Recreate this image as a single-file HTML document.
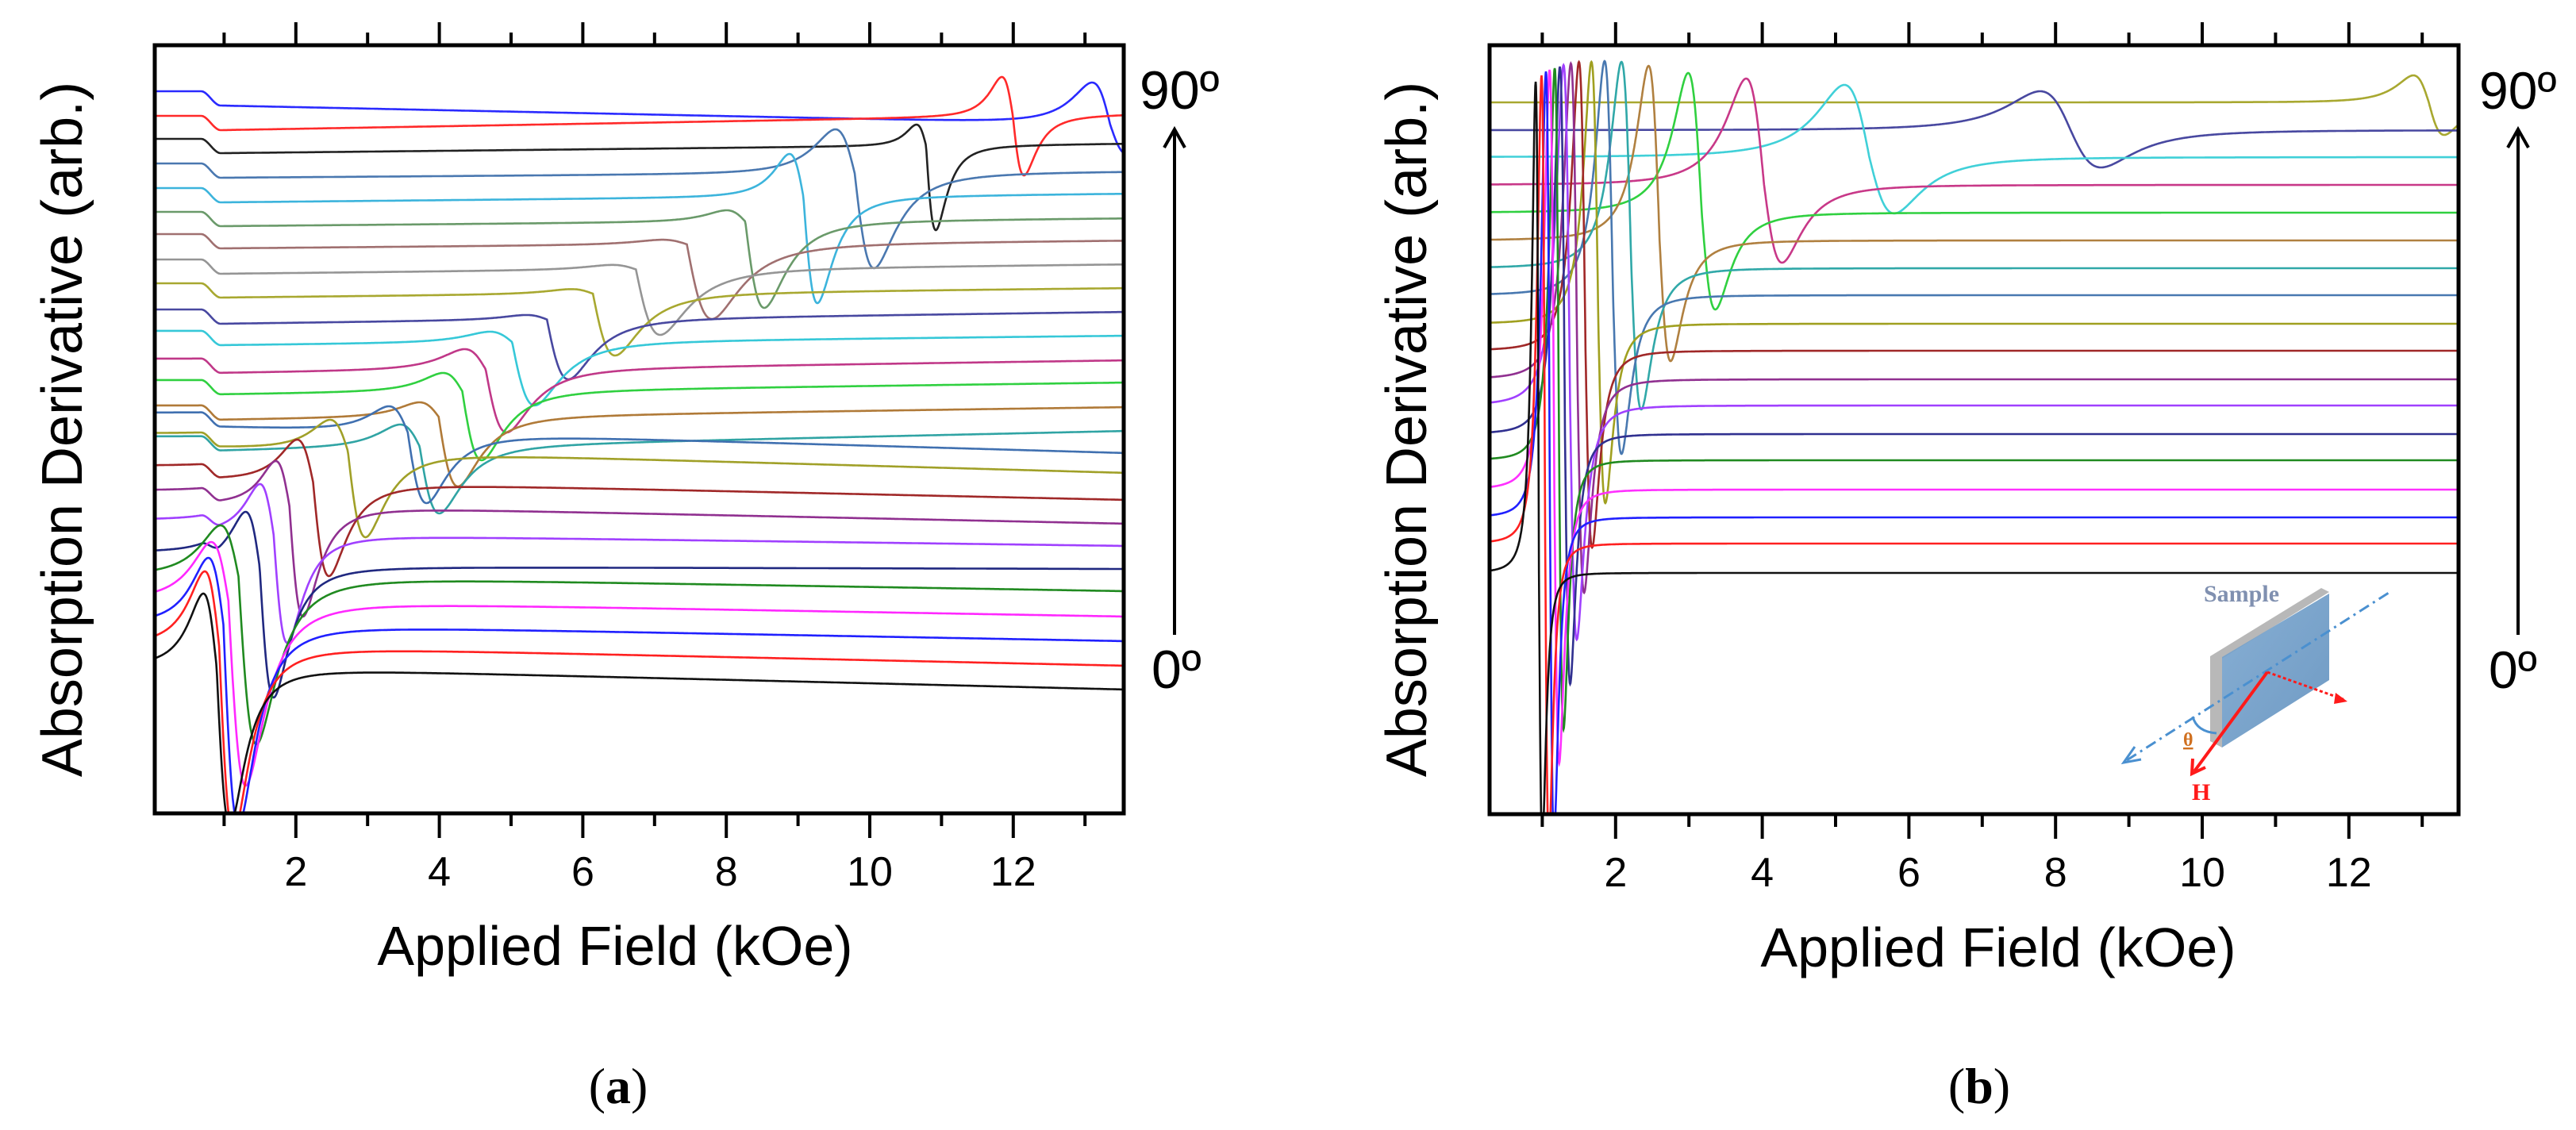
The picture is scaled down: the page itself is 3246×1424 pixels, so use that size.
<!DOCTYPE html>
<html><head><meta charset="utf-8"><style>
html,body{margin:0;padding:0;background:#fff;}
svg{display:block;}
text{font-family:"Liberation Sans",Arial,sans-serif;fill:#000;}
.ser{font-family:"Liberation Serif","Times New Roman",serif;}
</style></head><body>
<svg id="fig" width="3246" height="1424" viewBox="0 0 3246 1424" xmlns="http://www.w3.org/2000/svg">
<defs>
<clipPath id="clipA"><rect x="195" y="57" width="1221" height="968"/></clipPath>
<clipPath id="clipB"><rect x="1877" y="57" width="1221" height="969"/></clipPath>
<linearGradient id="plateGrad" x1="0" y1="0" x2="1" y2="1"><stop offset="0" stop-color="#7aa6cf"/><stop offset="1" stop-color="#5f8fbd"/></linearGradient>
</defs>
<g id="panelA">
<g id="tracesA" clip-path="url(#clipA)"></g>
<rect x="195" y="57" width="1221" height="968" fill="none" stroke="#000" stroke-width="5"/>
<g id="ticksA"></g>
<text transform="translate(103,541) rotate(-90)" text-anchor="middle" font-size="72">Absorption Derivative (arb.)</text>
<text x="775" y="1216" text-anchor="middle" font-size="70">Applied Field (kOe)</text>
<text x="1436" y="137" font-size="68">90º</text>
<line x1="1480" y1="800" x2="1480" y2="165" stroke="#000" stroke-width="4"/>
<polyline points="1467,186 1480,163 1493,186" fill="none" stroke="#000" stroke-width="4"/>
<text x="1451" y="867" font-size="68">0º</text>
<text class="ser" x="779" y="1390" text-anchor="middle" font-size="64">(<tspan font-weight="bold">a</tspan>)</text>
</g>
<g id="panelB">
<g id="tracesB" clip-path="url(#clipB)"></g>
<rect x="1877" y="57" width="1221" height="969" fill="none" stroke="#000" stroke-width="5"/>
<g id="ticksB"></g>
<text transform="translate(1797,541) rotate(-90)" text-anchor="middle" font-size="72">Absorption Derivative (arb.)</text>
<text x="2518" y="1218" text-anchor="middle" font-size="70">Applied Field (kOe)</text>
<text x="3124" y="137" font-size="66">90º</text>
<line x1="3173" y1="800" x2="3173" y2="165" stroke="#000" stroke-width="4"/>
<polyline points="3160,186 3173,163 3186,186" fill="none" stroke="#000" stroke-width="4"/>
<text x="3136" y="867" font-size="66">0º</text>
<text class="ser" x="2494" y="1390" text-anchor="middle" font-size="64">(<tspan font-weight="bold">b</tspan>)</text>
<g>
<polygon points="2785,827 2925,741 2935,746 2800,830 2800,942 2785,934" fill="#b8b8b8"/>
<polygon points="2800,828 2935,748 2935,857 2800,942" fill="url(#plateGrad)" opacity="0.9"/>
<text class="ser" x="2777" y="758" font-size="30" font-weight="bold" style="fill:#8090b0">Sample</text>
<line x1="2680" y1="958" x2="3010" y2="747" stroke="#4a90d0" stroke-width="3" stroke-dasharray="14,6,3,6"/>
<polyline points="2690,941 2676,961 2698,957" fill="none" stroke="#4a90d0" stroke-width="3"/>
<path d="M2763,903 Q2768,922 2793,924" fill="none" stroke="#4a90d0" stroke-width="3"/>
<line x1="2857" y1="847" x2="2765" y2="972" stroke="#ff1a1a" stroke-width="4"/>
<polyline points="2763,956 2762,975 2779,967" fill="none" stroke="#ff1a1a" stroke-width="4"/>
<line x1="2857" y1="847" x2="2955" y2="882" stroke="#ff1a1a" stroke-width="3" stroke-dasharray="4,3"/>
<polygon points="2958,884 2943,873 2941,887" fill="#ff1a1a"/>
<text class="ser" x="2751" y="940" font-size="24" font-weight="bold" style="fill:#d07020;text-decoration:underline">θ</text>
<text class="ser" x="2762" y="1008" font-size="30" font-weight="bold" style="fill:#ff1a1a">H</text>
</g>
</g>
</svg>
<script>
// ---------- Panel (a) data: traces ordered from top (90°) to bottom (0°) ----------
const aAngleIndex = [0,1,2,3,4,5,6,7,8,9,10,11,12,13,14,15,16,17,18,19,20,21,22,23,24,25];
const aLeft  = [910,879,850,819,788,758,730,698,668,635,608,573,546,514,475,505,479,438,407,370,329,299,268,238,211,184];
const aRight = [868,881,844,809,781,750,722,692,662,632,602,571,543,512,482,454,429,395,365,337,308,280,248,217,186,156];
const aPeakField = [13.1,11.84,10.65,9.52,8.88,8.0,7.1,6.4,5.83,5.2,4.7,4.35,4.05,3.72,3.45,3.3,2.48,2.02,1.72,1.5,1.3,0.95,0.82,0.78,0.73,0.71];
const aPeakValue = [921,928,868,862,831,760,718,681,650,621,607,585,555,518,490,513,496,471,444,415,380,363,342,322,305,277];
const aDipField  = [13.6,12.15,10.92,10.06,9.27,8.53,7.8,7.08,6.45,5.8,5.33,4.94,4.59,4.26,4.0,3.82,2.97,2.46,2.1,1.88,1.69,1.45,1.3,1.2,1.13,1.08];
const aDipValue  = [830,804,735,687,643,637,623,603,577,547,514,480,445,412,378,391,348,299,248,215,146,87,35,-15,-25,-15];
const aTickLabels = ["2","4","6","8","10","12"];
// ---------- Panel (b) data ----------
const bBase = [897,862,828,793,758,723,688,654,618,584,548,515,479,446,409,374,341,304];
const bPeakField = [12.88,7.79,5.12,3.78,2.99,2.45,2.08,1.85,1.67,1.5,1.39,1.29,1.24,1.17,1.1,1.05,0.99,0.91];
const bPeakValue = [931,911,919,927,934,943,948,949,948,948,946,944,942,940,938,936,931,923];
const bDipField  = [13.3,8.62,5.8,4.27,3.36,2.75,2.35,2.08,1.86,1.68,1.57,1.47,1.38,1.29,1.23,1.16,1.09,1.0];
const bDipValue  = [856,815,757,695,636,571,510,454,392,336,279,220,164,107,64,-30,-40,-40];
const bTickLabels = ["2","4","6","8","10","12"];

const aColors=["#2a2aff","#ff2a2a","#222222","#4a78b0","#3cb4dc","#6a9a6a","#a07070","#959595","#a8a830","#4848a0","#36c8d8","#c03888","#30d040","#b07a38","#30a4a4","#4070b0","#a0a028","#a02828","#903090","#a040ff","#202880","#208a20","#ff28ff","#2020ff","#ff2020","#111111"];
const bColors=["#a8a830","#4848a0","#40d0d8","#c83888","#30d040","#b08040","#30a8a8","#4878b0","#a0a020","#a02828","#903090","#a040ff","#303090","#208a20","#ff30ff","#2020ff","#ff2020","#111111"];

const NS="http://www.w3.org/2000/svg";
const ax=x=>192+90.4*x, ay=v=>1025-v;
const bx=x=>1851+92.4*x, by=v=>1026-v;
const GMAX=(1/Math.sqrt(3))/Math.pow(4/3,2);
function lor(H,hp,hd,a1,a2){const w=Math.sqrt(3)*(hd-hp)/2,h0=(hp+hd)/2,x=(H-h0)/w;const g=-x/Math.pow(1+x*x,2)/GMAX;return x<0?a1*g:a2*g;}
function smooth(t){t=Math.max(0,Math.min(1,t));return t*t*(3-2*t);}

// panel a traces
const ga=document.getElementById('tracesA');
for(let i=0;i<aLeft.length;i++){
  const step=i<=20?18:0, x0=0.03,x1=13.6;
  const bl=H=>{if(H<0.95)return aLeft[i]-step*smooth((H-0.68)/0.27);const s0=aLeft[i]-step;return s0+(aRight[i]-s0)*(H-0.95)/(x1-0.95);};
  const a1=Math.max(aPeakValue[i]-bl(aPeakField[i]),6), a2=Math.max(bl(aDipField[i])-aDipValue[i],6);
  let d="";
  for(let H=x0;H<=13.56;H+=0.01){
    const v=bl(H)+lor(H,aPeakField[i],aDipField[i],a1,a2);
    d+=(d?"L":"M")+ax(H).toFixed(1)+","+ay(v).toFixed(1);
  }
  const p=document.createElementNS(NS,'path');
  p.setAttribute('d',d);p.setAttribute('fill','none');p.setAttribute('stroke',aColors[i]);p.setAttribute('stroke-width','2.6');
  
  
  ga.appendChild(p);
}
// panel b traces
const gb=document.getElementById('tracesB');
for(let i=0;i<bBase.length;i++){
  const a1=bPeakValue[i]-bBase[i], a2=bBase[i]-bDipValue[i];
  let d="";
  for(let H=0.27;H<=13.52;H+=0.005){
    const v=bBase[i]+lor(H,bPeakField[i],bDipField[i],a1,a2);
    d+=(d?"L":"M")+bx(H).toFixed(1)+","+by(v).toFixed(1);
  }
  const p=document.createElementNS(NS,'path');
  p.setAttribute('d',d);p.setAttribute('fill','none');p.setAttribute('stroke',bColors[i]);p.setAttribute('stroke-width','2.6');
  
  
  gb.appendChild(p);
}
// ticks
function ticks(gid,sx,top,bot,labels){
  const g=document.getElementById(gid);
  for(let k=1;k<=13;k++){
    const x=sx(k);const maj=k%2===0;
    const l1=document.createElementNS(NS,'line');
    l1.setAttribute('x1',x);l1.setAttribute('x2',x);l1.setAttribute('y1',top);l1.setAttribute('y2',top-(maj?29:16));
    l1.setAttribute('stroke','#000');l1.setAttribute('stroke-width','4');
    
    
    g.appendChild(l1);
    const l2=document.createElementNS(NS,'line');
    l2.setAttribute('x1',x);l2.setAttribute('x2',x);l2.setAttribute('y1',bot);l2.setAttribute('y2',bot+(maj?31:16));
    l2.setAttribute('stroke','#000');l2.setAttribute('stroke-width','4');
    
    
    g.appendChild(l2);
    if(maj){
      const t=document.createElementNS(NS,'text');
      t.setAttribute('x',x);t.setAttribute('y',bot+91);t.setAttribute('text-anchor','middle');t.setAttribute('font-size','52');
      t.textContent=labels[k/2-1];
      
      
      g.appendChild(t);
    }
  }
}
ticks('ticksA',ax,57,1025,aTickLabels);
ticks('ticksB',bx,57,1026,bTickLabels);
</script>
</body></html>
